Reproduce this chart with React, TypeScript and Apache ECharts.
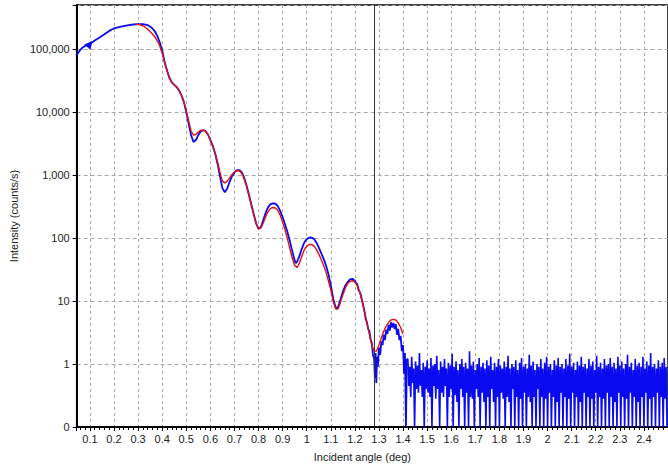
import React, { useEffect, useRef } from "react";
import * as echarts from "echarts";

// Measured reflectivity: smooth part of the scan (angle in deg, counts/s)
const measuredAngles = [
  0.045, 0.05, 0.06, 0.07, 0.08, 0.09, 0.1, 0.12, 0.14, 0.16, 0.18, 0.2, 0.22, 0.25, 0.28, 0.3,
  0.32, 0.34, 0.355, 0.37, 0.38, 0.39, 0.4, 0.41, 0.42, 0.43, 0.44, 0.45, 0.46, 0.47, 0.48, 0.49,
  0.5, 0.51, 0.52, 0.53, 0.54, 0.55, 0.56, 0.57, 0.58, 0.59, 0.6, 0.61, 0.62, 0.63, 0.64, 0.65,
  0.66, 0.67, 0.68, 0.69, 0.7, 0.71, 0.72, 0.73, 0.74, 0.75, 0.76, 0.77, 0.78, 0.79, 0.8, 0.81,
  0.82, 0.83, 0.84, 0.85, 0.86, 0.87, 0.88, 0.89, 0.9, 0.91, 0.92, 0.93, 0.94, 0.95, 0.955, 0.96,
  0.97, 0.98, 0.99, 1.0, 1.01, 1.02, 1.03, 1.04, 1.05, 1.06, 1.07, 1.08, 1.09, 1.1, 1.11, 1.12,
  1.125, 1.13, 1.14, 1.15, 1.16, 1.17, 1.18, 1.19, 1.2, 1.205, 1.21, 1.215, 1.22, 1.225, 1.23,
  1.235, 1.24, 1.245, 1.25, 1.255, 1.26, 1.265, 1.27, 1.275, 1.28, 1.283, 1.286, 1.289, 1.292,
  1.295, 1.3, 1.305, 1.31, 1.315, 1.32, 1.325, 1.33, 1.335, 1.34, 1.345, 1.35, 1.355, 1.36, 1.365,
  1.37, 1.375, 1.38, 1.385, 1.39, 1.395, 1.4, 1.404, 1.408, 1.412, 1.416,
];
const measuredCounts = [
  80000, 86000, 97000, 106000, 112000, 116000, 120000, 137000, 153000, 172000, 194000, 212000,
  223000, 236000, 245000, 248000, 248000, 240000, 220000, 190000, 160000, 128000, 95000, 62000,
  46000, 35000, 29500, 27000, 25000, 22000, 18500, 14500, 10000, 6500, 4300, 3350, 3600, 4300,
  4900, 5150, 5000, 4400, 3600, 2900, 2200, 1500, 950, 620, 530, 610, 780, 960, 1100, 1190, 1200,
  1110, 920, 690, 490, 340, 240, 170, 140, 150, 195, 255, 310, 345, 355, 350, 320, 270, 215, 165,
  125, 90, 62, 44, 40, 42, 52, 68, 85, 96, 101, 102, 97, 85, 71, 58, 47, 37, 27, 18, 11, 8, 7.5,
  8, 10.5, 14, 17.5, 20, 22, 22.5, 21, 19.5, 18.5, 15, 14, 12.5, 10, 8.5, 6.8, 5.2, 4.6, 3.6, 3.4,
  2.5, 2.2, 1.4, 1.2, 0.6, 1.5, 0.5, 1.3, 0.9, 1.8, 1.4, 2.3, 2.0, 2.9, 2.4, 3.5, 3.0, 4.2, 3.4,
  4.6, 3.8, 4.5, 3.6, 4.3, 2.9, 3.6, 2.4, 2.8, 1.6, 2.0, 0.7, 1.5, 0.1, 1.2,
];

// Background-level tail of the scan, one reading per angular step
const tailStart = 1.42;
const tailStep = 0.004;
const tailCounts = [
  1.2, 0.45, 0.9, 0.3, 1.3, 0.5, 0.85, 0.1, 1.1, 0.4, 0.95, 0.35, 1.5, 0.45, 0.8, 0.3, 1.05, 0.1, 0.9, 0.4,
  1.15, 0.35, 0.85, 0.3, 1.25, 0.1, 0.95, 0.45, 1.0, 0.28, 1.35, 0.4, 0.8, 0.1, 1.1, 0.35, 0.9, 0.3, 1.2, 0.45,
  0.85, 0.1, 1.05, 0.3, 0.95, 0.4, 1.45, 0.1, 0.9, 0.32, 1.1, 0.25, 0.8, 0.1, 1.0, 0.4, 1.2, 0.3, 0.9, 0.1,
  1.05, 0.35, 0.85, 0.1, 1.6, 0.3, 0.95, 0.28, 1.1, 0.1, 0.8, 0.4, 1.0, 0.3, 1.25, 0.1, 0.9, 0.35, 1.05, 0.25,
  0.85, 0.1, 1.15, 0.3, 0.95, 0.1, 1.3, 0.4, 0.8, 0.25, 1.05, 0.1, 0.9, 0.3, 1.2, 0.1, 0.95, 0.35, 0.85, 0.28,
  1.1, 0.1, 0.9, 0.3, 1.35, 0.25, 0.85, 0.1, 1.0, 0.4, 0.9, 0.1, 1.15, 0.3, 0.8, 0.1, 1.05, 0.28, 1.25, 0.1,
  0.9, 0.35, 1.0, 0.1, 0.85, 0.3, 1.4, 0.25, 0.95, 0.1, 1.1, 0.3, 0.8, 0.1, 1.0, 0.4, 0.9, 0.1, 1.2, 0.3,
  0.85, 0.1, 1.05, 0.28, 1.3, 0.1, 0.9, 0.35, 1.0, 0.1, 0.8, 0.3, 1.15, 0.1, 0.95, 0.25, 1.25, 0.1, 0.9, 0.35,
  1.0, 0.1, 0.85, 0.3, 1.2, 0.1, 0.95, 0.28, 1.45, 0.1, 0.9, 0.35, 1.05, 0.1, 0.8, 0.3, 1.1, 0.1, 0.95, 0.25,
  1.3, 0.1, 0.9, 0.35, 1.0, 0.1, 0.85, 0.3, 1.2, 0.1, 0.95, 0.28, 1.1, 0.1, 0.8, 0.35, 1.35, 0.1, 0.9, 0.3,
  1.05, 0.1, 0.85, 0.28, 1.2, 0.1, 0.95, 0.35, 1.0, 0.1, 1.25, 0.3, 0.9, 0.1, 1.05, 0.25, 0.85, 0.1, 1.3, 0.35,
  0.95, 0.1, 1.1, 0.3, 0.85, 0.1, 1.0, 0.28, 1.4, 0.1, 0.9, 0.35, 1.05, 0.1, 0.8, 0.3, 1.2, 0.1, 0.95, 0.25,
  1.05, 0.1, 0.9, 0.3, 1.3, 0.1, 0.85, 0.35, 1.1, 0.1, 0.95, 0.28, 1.5, 0.1, 0.9, 0.3, 1.0, 0.1, 0.85, 0.35,
  1.15, 0.1, 0.9, 0.3, 1.05, 0.1, 1.25, 0.28, 0.9, 0.1,
];

// Simulated (fitted) curve
const fitAngles = [
  0.29, 0.3, 0.31, 0.32, 0.33, 0.34, 0.35, 0.36, 0.37, 0.38, 0.39, 0.4, 0.41, 0.42, 0.43, 0.44,
  0.45, 0.46, 0.47, 0.48, 0.49, 0.5, 0.51, 0.52, 0.53, 0.54, 0.55, 0.56, 0.57, 0.58, 0.59, 0.6,
  0.61, 0.62, 0.63, 0.64, 0.65, 0.66, 0.67, 0.68, 0.69, 0.7, 0.71, 0.72, 0.73, 0.74, 0.75, 0.76,
  0.77, 0.78, 0.79, 0.8, 0.81, 0.82, 0.83, 0.84, 0.85, 0.86, 0.87, 0.88, 0.89, 0.9, 0.91, 0.92,
  0.93, 0.94, 0.95, 0.96, 0.97, 0.98, 0.99, 1.0, 1.01, 1.02, 1.03, 1.04, 1.05, 1.06, 1.07, 1.08,
  1.09, 1.1, 1.11, 1.12, 1.13, 1.14, 1.15, 1.16, 1.17, 1.18, 1.19, 1.2, 1.21, 1.22, 1.23, 1.24,
  1.25, 1.26, 1.27, 1.28, 1.29, 1.3, 1.31, 1.32, 1.33, 1.34, 1.35, 1.36, 1.37, 1.38, 1.39, 1.4,
];
const fitCounts = [
  247000, 246000, 242000, 234000, 222000, 206000, 190000, 172000, 155000, 135000, 112000, 86000,
  62000, 45000, 34500, 29500, 27000, 25000, 22000, 18500, 14500, 10500, 7200, 5000, 4300, 4400,
  4800, 5100, 5150, 4950, 4400, 3600, 2900, 2200, 1600, 1100, 800, 750, 800, 900, 1020, 1120, 1180,
  1170, 1070, 880, 670, 480, 340, 240, 170, 140, 145, 175, 220, 265, 295, 305, 300, 275, 230, 180,
  135, 98, 68, 48, 37, 34, 40, 52, 65, 74, 79, 79, 75, 66, 56, 46, 37, 29, 21, 15, 10, 7.5, 7.5,
  9.5, 12.5, 16, 19, 20.5, 21, 20, 17.5, 14, 10, 6.8, 4.5, 3.0, 2.0, 1.6, 1.6, 2.0, 2.6, 3.3, 4.0,
  4.6, 5.0, 5.1, 5.0, 4.5, 3.8, 3.0,
];

const cursorAngle = 1.28;
const arrowAngle = 0.1;
const arrowCounts = 120000;

const X_MIN = 0.045;
const X_MAX = 2.5;
const Y_MIN = 0.1;
const Y_MAX = 500000;

const BLUE = "#0a0af0";
const RED = "#e01010";
const FONT = "'Liberation Sans', Arial, sans-serif";

function isPowerOfTen(v: number) {
  const l = Math.log10(v);
  return Math.abs(l - Math.round(l)) < 1e-6;
}

export default function App() {
  const ref = useRef<HTMLDivElement>(null);

  useEffect(() => {
    if (!ref.current) return;
    const chart = echarts.init(ref.current, undefined, { renderer: "svg" });

    const measured = measuredAngles.map((a, i) => [a, measuredCounts[i]]);
    const lastIdx = measuredAngles.length - 1;
    const tail: number[][] = [[measuredAngles[lastIdx], measuredCounts[lastIdx]]];
    tailCounts.forEach((c, i) => {
      tail.push([+(tailStart + i * tailStep).toFixed(3), c]);
    });
    const fit = fitAngles.map((a, i) => [a, fitCounts[i]]);

    chart.setOption({
      animation: false,
      backgroundColor: "#ffffff",
      textStyle: { fontFamily: FONT },
      grid: {
        left: 75,
        top: 5,
        width: 599,
        height: 422,
        show: true,
        borderColor: "#000",
        borderWidth: 1.5,
        backgroundColor: "transparent",
      },
      xAxis: {
        type: "value",
        min: X_MIN,
        max: X_MAX,
        splitNumber: 25,
        name: "Incident angle (deg)",
        nameLocation: "middle",
        nameGap: 24,
        nameTextStyle: { color: "#222", fontSize: 11, fontFamily: FONT, padding: [0, 20, 0, 0] },
        axisLine: { show: true, onZero: false, lineStyle: { color: "#000", width: 2 } },
        axisTick: { show: true, length: 4, lineStyle: { color: "#000" } },
        minorTick: { show: true, splitNumber: 5, length: 3, lineStyle: { color: "#000" } },
        axisLabel: {
          color: "#222",
          fontSize: 11,
          fontFamily: FONT,
          margin: 6,
          showMinLabel: false,
          showMaxLabel: false,
          formatter: (v: number) => {
            const r = Math.round(v * 10) / 10;
            return Math.abs(r - v) < 1e-6 ? String(r) : "";
          },
        },
        splitLine: { show: true, lineStyle: { color: "#a8a8a8", type: [3, 3], width: 1 } },
      },
      yAxis: {
        type: "log",
        logBase: 10,
        min: Y_MIN,
        max: Y_MAX,
        name: "Intensity (counts/s)",
        nameLocation: "middle",
        nameGap: 51,
        nameTextStyle: { color: "#222", fontSize: 11, fontFamily: FONT },
        axisLine: { show: true, lineStyle: { color: "#000", width: 2 } },
        axisTick: { show: true, length: 4, lineStyle: { color: "#000" } },
        axisLabel: {
          color: "#222",
          fontSize: 11,
          fontFamily: FONT,
          margin: 7,
          formatter: (v: number) => {
            if (!isPowerOfTen(v) || v > Y_MAX) return "";
            return v < 1 ? "0" : Math.round(v).toLocaleString("en-US");
          },
        },
        splitLine: { show: true, lineStyle: { color: "#a8a8a8", type: [4, 3], width: 1 } },
      },
      series: [
        {
          name: "Measured",
          type: "line",
          data: measured,
          showSymbol: false,
          symbol: "none",
          lineStyle: { color: BLUE, width: 1.8 },
          markLine: {
            silent: true,
            symbol: ["none", "none"],
            label: { show: false },
            lineStyle: { color: "#333", width: 1, type: "solid" },
            data: [{ xAxis: cursorAngle }],
          },
          markPoint: {
            silent: true,
            symbol: "triangle",
            symbolSize: 8,
            symbolRotate: -40,
            label: { show: false },
            itemStyle: { color: BLUE },
            data: [{ coord: [arrowAngle, arrowCounts] }],
          },
        },
        {
          name: "Measured tail",
          type: "line",
          data: tail,
          showSymbol: false,
          symbol: "none",
          lineStyle: { color: BLUE, width: 1.6 },
        },
        {
          name: "Fit",
          type: "line",
          data: fit,
          showSymbol: false,
          symbol: "none",
          lineStyle: { color: RED, width: 1.4 },
        },
      ],
    });

    return () => chart.dispose();
  }, []);

  return (
    <div
      ref={ref}
      style={{ position: "fixed", left: 0, top: 0, width: 668, height: 468, background: "#fff" }}
    />
  );
}
